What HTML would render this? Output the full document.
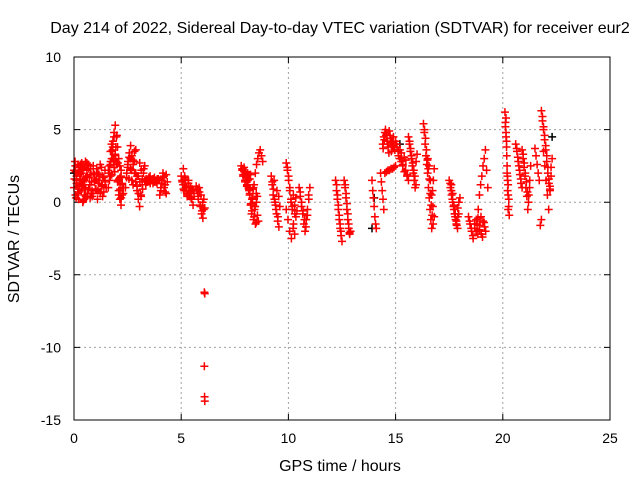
<!DOCTYPE html>
<html><head><meta charset="utf-8"><style>
body{margin:0;background:#fff;}
svg{display:block;font-family:"Liberation Sans",sans-serif;}
</style></head><body>
<svg id="chart" width="640" height="480">
<text x="340" y="33" text-anchor="middle" font-size="16">Day 214 of 2022, Sidereal Day-to-day VTEC variation (SDTVAR) for receiver eur2</text>
<text x="340" y="471" text-anchor="middle" font-size="16">GPS time / hours</text>
<text transform="translate(19,239) rotate(-90)" text-anchor="middle" font-size="16">SDTVAR / TECUs</text>
<g id="grid"></g>
<g id="ticks"></g>
<g id="marks"></g>
<rect x="74" y="57" width="536" height="363" fill="none" stroke="#000" stroke-width="1"/>
</svg>
<script>
const xTicks=[0,5,10,15,20,25];
const yTicks=[10,5,0,-5,-10,-15];
// arcs: [startHour, endHour, values]
const arcs=[
[0,0.9,[2.2,2.5,1.8,2.6,1.2,2.0,2.7,1.5,2.4,1.0,2.2,2.6,1.7,2.3,0.8,2.0]],
[0,1.3,[1.0,0.5,1.3,0.2,1.6,0.8,0.0,1.2,0.4,1.8,0.9,0.3,1.4,0.6,1.9,0.9,0.2,1.5,0.7,1.1]],
[0.05,0.6,[2.8,1.5,2.0,0.9,2.6,1.2,2.3,0.5,1.7,2.7]],
[0.02,1.0,[1.6,2.1,1.3,0.6,2.4,1.9,1.1,2.2,0.1,1.5,2.8,1.7,0.6,2.3,1.2,1.9,0.4,2.5,1.4,0.9]],
[0.1,0.8,[0.3,1.1,0.7,1.6,2.0,1.4,0.2,0.9,1.8,2.5,1.2,0.6]],
[1.0,1.5,[1.5,2.3,0.8,1.9,2.6,1.2,0.4,1.7,2.2,1.0]],
[1.0,1.45,[0.9,1.6,2.0,1.3,0.6,2.4,1.8,0.7,1.4]],
[1.6,2.3,[1.0,2.0,2.8,3.5,4.2,4.8,5.3,4.5,3.8,3.0,2.5,1.8,1.2,0.6]],
[1.6,2.3,[2.2,1.5,2.6,1.9,3.0,2.4,3.3,2.8,1.5,0.8,0.2,-0.2,0.5,1.0]],
[1.7,2.2,[1.8,3.0,3.8,4.5,3.2,2.6,1.4,0.5,1.7,2.2]],
[1.65,2.25,[2.5,3.5,4.0,3.6,2.9,2.1,3.8,4.6,2.7,1.6,0.9,0.3,1.3]],
[2.4,3.3,[1.0,2.0,2.8,3.4,3.9,3.2,2.6,2.0,1.4,0.8,0.2,-0.3,0.5,1.2,2.0,2.5]],
[2.5,3.2,[2.4,1.6,3.0,2.2,1.2,2.8,3.6,1.8,0.6,1.4,2.2,0.9]],
[2.45,3.25,[1.7,2.6,3.1,2.3,1.5,2.9,3.5,2.0,1.1,1.8,2.7,0.4,1.6,2.3]],
[3.3,4.0,[1.5,1.6,1.4,1.7,1.3,1.5,1.6,1.4,1.5,1.3,1.6,1.5]],
[3.35,3.95,[1.2,1.4,1.6,1.8,1.5,1.3,1.7,1.4,1.6,1.5]],
[4.0,4.35,[0.5,1.0,1.5,2.0,1.8,1.2,0.6,1.4]],
[4.05,4.3,[0.8,1.3,1.7,1.0,0.7,1.9]],
[5.0,5.6,[1.8,1.5,1.2,0.8,1.6,1.0,0.5,1.3,0.7,1.1,0.3,0.9,-0.2,0.6]],
[5.1,5.4,[2.3,1.8,1.0,0.4,1.5,0.8]],
[5.05,5.55,[1.4,0.9,1.7,1.1,0.6,1.3,0.4,1.0,0.2,0.8]],
[5.7,6.1,[1.1,0.8,0.4,1.0,-0.2,0.5,-0.6,-1.1,0.2,-0.4]],
[5.75,6.05,[0.9,0.2,0.7,-0.3,-0.8,0.0,-0.5]],
[6.08,6.1,[-6.2,-6.3]],
[6.08,6.1,[-11.3,-13.4,-13.7]],
[7.8,8.2,[2.5,2.2,1.8,2.4,1.5,2.1,1.2,1.9,1.0,1.6]],
[7.85,8.15,[2.3,1.9,2.1,1.4,1.7,1.1,1.5,0.9]],
[8.1,8.6,[2.0,1.0,0.5,-0.2,-0.8,0.3,-1.2,-0.5,-1.5,0.0,-0.9,-1.3]],
[8.15,8.55,[1.6,0.6,-0.1,-0.6,0.9,-1.0,-0.3,-1.4,0.4]],
[8.4,8.8,[1.2,2.0,2.6,3.0,3.4,3.6,3.2,2.8]],
[8.1,8.5,[1.5,0.8,1.9,0.2,1.0,-0.3,0.6]],
[9.2,9.6,[1.8,1.2,0.5,1.5,0.0,-0.5,0.8,-1.0,-1.7,-0.3]],
[9.25,9.55,[1.4,0.9,0.2,-0.2,-0.8,-1.3,0.4]],
[9.9,10.4,[2.7,2.2,1.5,0.8,0.2,-0.5,0.5,-0.2,0.3,-0.6]],
[9.9,10.3,[-0.5,-1.2,-2.0,-2.5,-1.8,-0.8]],
[9.95,10.35,[2.4,1.8,1.0,0.0,-0.3,-1.5,-2.2,-1.0]],
[10.5,11.0,[1.0,0.4,-0.3,-0.8,-1.5,-2.0,-1.2,-0.5,0.5,1.0]],
[10.55,10.95,[0.7,0.0,-0.6,-1.2,-1.7,-0.9,0.2]],
[12.2,12.5,[1.5,0.8,0.2,-0.5,-1.2,-1.8,-2.3,-2.7]],
[12.25,12.45,[1.2,0.5,-0.2,-0.9,-1.5,-2.0]],
[12.6,12.9,[1.5,1.0,0.3,-0.5,-1.2,-1.8,-2.2,-2.0]],
[12.65,12.85,[1.2,0.6,-0.1,-0.8,-1.5,-2.1]],
[13.9,14.1,[1.5,0.8,0.3,-0.3,-1.0,-1.5,-1.8]],
[14.3,14.45,[2.0,1.4,0.8,0.2,-0.5]],
[14.4,14.95,[4.0,4.5,4.8,4.6,4.2,3.8,4.9,4.4,3.5,4.1,3.8,3.6]],
[14.42,14.9,[3.7,4.3,5.0,4.7,4.0,3.4,4.6,4.2,3.9,4.5]],
[14.5,15.0,[2.0,2.1,2.2,2.2,2.3,2.3,2.4,2.5]],
[15.0,15.6,[4.2,3.8,3.2,3.6,2.8,2.5,3.1,2.2,1.8,1.5]],
[15.05,15.55,[4.0,3.5,3.0,3.4,2.6,2.1,2.9,1.9]],
[15.6,16.0,[4.5,4.0,3.5,3.0,2.5,2.0,1.5,1.0,2.8,3.3]],
[15.65,15.95,[4.2,3.7,3.2,2.7,2.2,1.8,1.2]],
[16.3,16.8,[5.4,4.8,4.0,3.2,2.6,2.0,1.0,0.3,-0.5,-1.2,-1.8,0.8,1.5,2.3]],
[16.35,16.75,[5.0,4.4,3.6,2.9,2.3,1.6,0.6,-0.2,-0.9,-1.5]],
[16.5,16.8,[3.0,2.5,1.5,0.5,-0.3,-1.0]],
[17.5,18.0,[1.5,1.0,0.5,0.0,-0.5,-1.0,-1.5,-1.8,-0.8,0.3]],
[17.55,17.95,[1.3,0.8,0.2,-0.3,-0.8,-1.2,-1.6,-1.0,0.0]],
[17.6,17.9,[1.2,0.6,-0.2,-0.8,-1.3,-0.4]],
[18.4,19.2,[-1.0,-1.5,-2.0,-2.5,-1.8,-1.2,-2.2,-1.6,-1.0,-2.4,-1.4,-2.0]],
[18.45,19.15,[-1.3,-1.8,-2.3,-1.5,-2.0,-1.1,-1.9,-2.2,-1.3,-1.7]],
[18.8,19.3,[-1.5,-0.5,0.5,1.2,1.8,2.5,3.0,3.6,2.2,1.0]],
[20.1,20.3,[6.2,5.5,4.8,3.8,2.5,1.5,0.5,-0.3,-0.9]],
[20.15,20.25,[5.8,4.2,2.0,0.8,-0.5]],
[20.12,20.28,[5.2,4.5,3.2,1.8,1.2,0.2]],
[20.6,20.9,[4.0,3.5,2.8,2.2,1.6,1.0]],
[20.65,20.85,[3.7,3.1,2.5,1.9,1.3]],
[20.9,21.3,[3.6,3.0,2.4,1.8,1.0,0.4,-0.5,0.5,1.5,2.5]],
[20.95,21.25,[3.3,2.7,2.0,1.4,0.7,0.0,1.0]],
[21.5,21.8,[3.7,3.2,2.6,2.0,1.5,-1.6,-1.2]],
[21.8,22.3,[6.3,5.6,5.0,4.3,3.6,2.8,2.0,1.3,0.9,1.8,3.0]],
[21.85,22.25,[5.9,5.2,4.6,3.9,3.2,2.4,1.6,1.1,2.4]],
[21.9,22.2,[3.5,2.5,1.5,0.5,-0.5,0.8]]
];
const blackTimes=[0.0,13.9,14.0,15.2,22.3];
const blackValues=[2.0,-1.8,0.3,4.0,4.5];

const X0=74,X1=610,Y0=420,Y1=57,XMIN=0,XMAX=25,YMIN=-15,YMAX=10;
const sx=v=>X0+(v-XMIN)/(XMAX-XMIN)*(X1-X0);
const sy=v=>Y0-(v-YMIN)/(YMAX-YMIN)*(Y0-Y1);
const NS='http://www.w3.org/2000/svg';
const mk=(t,a)=>{const e=document.createElementNS(NS,t);for(const k in a)e.setAttribute(k,a[k]);return e;};
const grid=document.getElementById('grid'),ticks=document.getElementById('ticks'),marks=document.getElementById('marks');
xTicks.forEach(t=>{
  const x=sx(t);
  if(t>XMIN&&t<XMAX){const g=mk('line',{x1:x,x2:x,y1:Y1,y2:Y0,stroke:'#a0a0a0','stroke-dasharray':'2,3'});
  
  grid.appendChild(g);}
  const tk=mk('path',{d:`M${x},${Y0}v-6M${x},${Y1}v6`,stroke:'#000'});
  
  ticks.appendChild(tk);
  const l=mk('text',{x:x,y:Y0+23,'text-anchor':'middle','font-size':14});l.textContent=t;
  
  ticks.appendChild(l);
});
yTicks.forEach(t=>{
  const y=sy(t);
  if(t>YMIN&&t<YMAX){const g=mk('line',{x1:X0,x2:X1,y1:y,y2:y,stroke:'#a0a0a0','stroke-dasharray':'2,3'});
  
  grid.appendChild(g);}
  const tk=mk('path',{d:`M${X0},${y}h6M${X1},${y}h-6`,stroke:'#000'});
  
  ticks.appendChild(tk);
  const l=mk('text',{x:X0-13,y:y+5,'text-anchor':'end','font-size':14});l.textContent=t;
  
  ticks.appendChild(l);
});
function plus(t,v,c){
  const x=sx(t),y=sy(v);
  const p=mk('path',{d:`M${x-4},${y}h8M${x},${y-4}v8`,stroke:c,'stroke-width':1.5});
  
  
  marks.appendChild(p);
}
blackTimes.forEach((t,i)=>plus(t,blackValues[i],'#000'));
arcs.forEach(a=>{
  const [t0,t1,vals]=a,n=vals.length;
  vals.forEach((v,i)=>plus(n>1?t0+(t1-t0)*i/(n-1):t0,v,'#ff0000'));
});
</script>
</body></html>
